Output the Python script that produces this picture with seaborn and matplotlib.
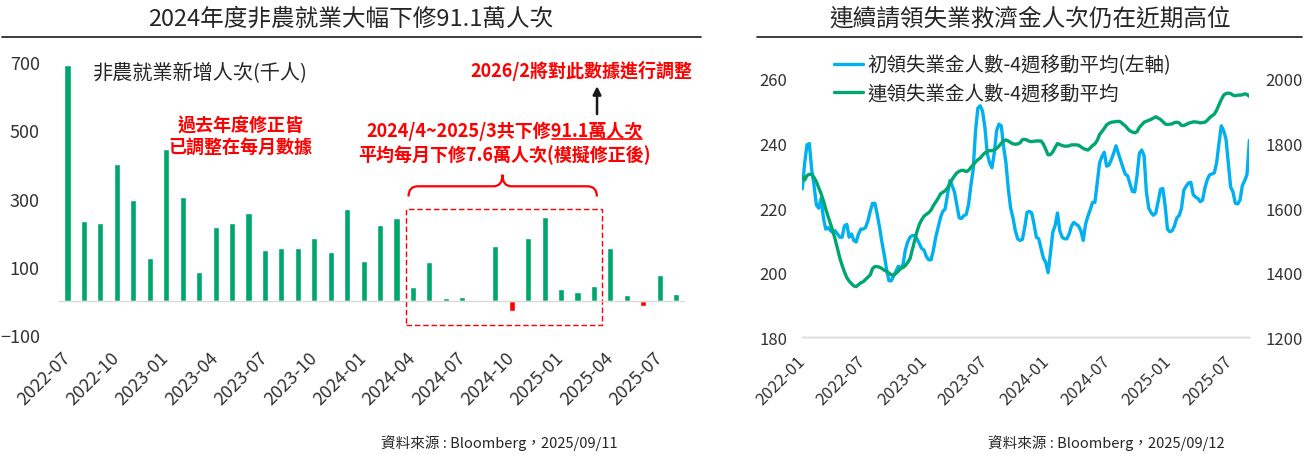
#nfp revision + jobless claims

import matplotlib.pyplot as plt
import numpy as np
import pandas as pd
import seaborn as sns
from matplotlib.lines import Line2D
from matplotlib.patches import Rectangle, PathPatch
from matplotlib.path import Path

# -----------------------------------------
# Data: nonfarm payrolls (thousands), monthly
# -----------------------------------------

months = pd.period_range("2022-07", "2025-08", freq="M").strftime("%Y-%m").tolist()

nfp = [692, 235, 227, 400, 297, 124,
       444, 306, 85, 215, 227, 257, 148, 156, 156, 185, 142, 268,
       118, 221, 244, 41, 115, 9, 12, -4, 162, -31, 185, 247,
       35, 26, 44, 156, 18, -14, 76, 21]

# -----------------------------------------
# Data: jobless claims, 4-week moving average (weekly)
# -----------------------------------------

weeks = pd.date_range("2022-01-01", periods=192, freq="7D")

initial_claims = [
    226, 234, 239.6, 240, 232, 227, 221, 220, 223, 217, 213.5, 214,
    213, 212.5, 213, 212, 211, 211, 214.5, 215, 211, 212, 210, 209.5,
    212, 213.5, 213.5, 214, 216, 219, 221.5, 221.5, 218, 214, 209.5, 205.5,
    201, 197.5, 197.5, 199, 200.5, 202, 201.5, 202.5, 207, 209.5, 211, 211.5,
    211.5, 210.5, 209, 207.5, 207, 205, 204, 204, 207, 211, 214, 217,
    219, 219.7, 224, 228.5, 227, 225, 221, 217, 216.8, 217.7, 218, 221,
    227, 232, 244, 251, 251.7, 250, 245, 237, 234, 232.5, 237, 244,
    246, 245.5, 239, 234, 226, 220, 217, 213, 210.5, 210, 210.3, 214,
    218.7, 219, 218.5, 215, 211, 210.5, 207.5, 204.5, 203.2, 200, 206, 212.5,
    214.6, 218.5, 213, 211, 210.5, 210.5, 212, 214.5, 215.6, 215, 214.5, 213,
    210, 215, 217.5, 219.5, 221.8, 221.8, 228, 234, 236, 237.3, 233, 233.3,
    235, 237, 239.3, 237, 234.8, 232.5, 230.5, 230, 227.5, 225.2, 225, 230,
    237, 238, 236.3, 225, 220, 218.6, 217.8, 218.5, 222, 225.8, 226.1, 220.8,
    213.5, 212.7, 213, 214.5, 217, 217.7, 220, 225.6, 226.8, 227.8, 228, 224.2,
    223.4, 223, 222, 222.5, 226.3, 228.8, 230.3, 230.6, 230.9, 234, 240, 245.5,
    244, 241.4, 234, 226.5, 225, 221.5, 221.3, 222.5, 227, 228.5, 230.5, 241,
]

continuing_claims = [
    1696, 1687, 1701, 1705, 1704, 1695, 1682, 1663, 1645, 1623, 1597, 1574,
    1552, 1530, 1504, 1475, 1446, 1423, 1402, 1385, 1374, 1366, 1359, 1357,
    1363, 1369, 1372, 1379, 1386, 1393, 1413, 1419, 1419, 1417, 1413, 1408,
    1404, 1399, 1394, 1392, 1398, 1405, 1413, 1416, 1422, 1432, 1443, 1472,
    1500, 1528, 1550, 1564, 1575, 1581, 1586, 1594, 1608, 1619, 1630, 1644,
    1649, 1654, 1662, 1674, 1689, 1700, 1709, 1714, 1717, 1717, 1713, 1717,
    1726, 1734, 1743, 1750, 1755, 1764, 1771, 1776, 1778, 1778, 1780, 1785,
    1792, 1801, 1809, 1811, 1808, 1803, 1799, 1798, 1799, 1802, 1812, 1813,
    1811, 1807, 1806, 1807, 1808, 1808, 1808, 1798, 1782, 1765, 1766, 1774,
    1788, 1800, 1797, 1794, 1792, 1792, 1793, 1796, 1796, 1796, 1795, 1790,
    1785, 1782, 1780, 1786, 1794, 1799, 1810, 1828, 1837, 1847, 1858, 1863,
    1866, 1867, 1868, 1869, 1867, 1860, 1855, 1846, 1839, 1836, 1833, 1837,
    1850, 1858, 1866, 1869, 1872, 1875, 1879, 1883, 1879, 1875, 1868, 1861,
    1859, 1860, 1861, 1865, 1866, 1864, 1856, 1856, 1859, 1863, 1865, 1867,
    1867, 1866, 1864, 1865, 1866, 1872, 1880, 1886, 1891, 1903, 1920, 1936,
    1950, 1955, 1956, 1955, 1950, 1948, 1950, 1950, 1951, 1954, 1952, 1946,
]

claims_ticks = pd.date_range("2022-01-01", "2025-07-01", freq="6MS")

GREEN = "#00A76C"
RED = "#FF0000"
BLUE = "#00B0F0"
GRID = "#D9D9D9"
TXT = "#262626"

# -----------------------------------------
# Theme
# -----------------------------------------

sns.set_theme(style="white")
plt.rcParams["font.family"] = ["Noto Sans CJK TC", "DejaVu Sans"]

fig = plt.figure(figsize=(13.11, 4.56), dpi=100)

ax1 = fig.add_axes([0.04523, 0.2636, 0.4768, 0.5976])
ax2 = fig.add_axes([0.6120, 0.2581, 0.3410, 0.5665])

# -----------------------------------------
# Left: payroll bars
# -----------------------------------------

df_nfp = pd.DataFrame({
    "month": months,
    "value": nfp,
    "sign": np.where(np.array(nfp) >= 0, "pos", "neg"),
})

sns.barplot(
    data=df_nfp, x="month", y="value", hue="sign",
    palette={"pos": GREEN, "neg": RED},
    dodge=False, width=0.37, saturation=1, legend=False, ax=ax1
)

ax1.set_xlim(-0.5, len(months) - 0.5)
ax1.set_ylim(-100, 700)
ax1.set_yticks([-100, 100, 300, 500, 700])
ax1.set_xlabel("")
ax1.set_ylabel("")

for s in ["top", "right", "left"]:
    ax1.spines[s].set_visible(False)
ax1.spines["bottom"].set_position(("data", 0))
ax1.spines["bottom"].set_color(GRID)
ax1.spines["bottom"].set_linewidth(1)

ax1.set_xticks(range(0, len(months), 3))
ax1.set_xticklabels(months[::3])
ax1.set_xticks(np.arange(-0.5, len(months) - 1, 3), minor=True)
ax1.tick_params(axis="x", which="major", length=0, pad=39, labelsize=13, labelcolor="#333333")
ax1.tick_params(axis="x", which="minor", length=3.6, width=1, color=GRID, direction="out")
ax1.tick_params(axis="y", length=0, pad=14, labelsize=13, labelcolor="#333333")
for lab in ax1.get_xticklabels():
    lab.set_rotation(45)
    lab.set_ha("right")
    lab.set_va("center")
    lab.set_rotation_mode("anchor")

# annotations
ax1.text(1.56, 671, "非農就業新增人次(千人)", fontsize=14.5, color=TXT, ha="left", va="center")

ax1.text(10.5, 483, "過去年度修正皆\n已調整在每月數據", fontsize=13, color=RED,
         fontweight="bold", ha="center", va="center", linespacing=1.2)

ax1.text(37.97, 677, "2026/2將對此數據進行調整", fontsize=13, color=RED,
         fontweight="bold", ha="right", va="center", clip_on=False)

ax1.annotate("", xy=(32.19, 630), xytext=(32.19, 548),
             arrowprops=dict(arrowstyle="-|>", color="#1A1A1A", lw=1.8,
                             mutation_scale=12, shrinkA=0, shrinkB=0))

ax1.text(26.55, 501, "2024/4~2025/3共下修91.1萬人次", fontsize=13, color=RED,
         fontweight="bold", ha="center", va="center")
ax1.plot([29.45, 34.95], [474, 474], color=RED, lw=1.2)
ax1.text(26.55, 431, "平均每月下修7.6萬人次(模擬修正後)", fontsize=13, color=RED,
         fontweight="bold", ha="center", va="center")

# curly brace over the revised window
brace = Path(
    [(20.73, 306), (20.73, 336), (21.3, 336),
     (25.9, 336),
     (26.44, 336), (26.44, 370),
     (26.44, 336), (26.98, 336),
     (31.6, 336),
     (32.18, 336), (32.18, 306)],
    [Path.MOVETO, Path.CURVE3, Path.CURVE3,
     Path.LINETO,
     Path.CURVE3, Path.CURVE3,
     Path.CURVE3, Path.CURVE3,
     Path.LINETO,
     Path.CURVE3, Path.CURVE3],
)
ax1.add_patch(PathPatch(brace, facecolor="none", edgecolor=RED, lw=1.6))

ax1.add_patch(Rectangle((20.55, -71), 11.95, 339, fill=False, edgecolor=RED,
                        lw=1, linestyle=(0, (4, 2))))

# -----------------------------------------
# Right: claims lines (twin axes)
# -----------------------------------------

df_claims = pd.DataFrame({
    "week": weeks,
    "initial": initial_claims,
    "continuing": continuing_claims,
})

sns.lineplot(data=df_claims, x="week", y="initial", color=BLUE, linewidth=2.4,
             label="初領失業金人數-4週移動平均(左軸)", legend=False, ax=ax2)

ax2b = ax2.twinx()
sns.lineplot(data=df_claims, x="week", y="continuing", color=GREEN, linewidth=2.4,
             label="連領失業金人數-4週移動平均", legend=False, ax=ax2b)

ax2.set_xlim(weeks[0], weeks[-1])
ax2.set_ylim(180, 260)
ax2.set_yticks(range(180, 261, 20))
ax2b.set_ylim(1200, 2000)
ax2b.set_yticks(range(1200, 2001, 200))
for a in (ax2, ax2b):
    a.set_xlabel("")
    a.set_ylabel("")
    for s in ["top", "right", "left"]:
        a.spines[s].set_visible(False)
    a.spines["bottom"].set_color(GRID)
    a.spines["bottom"].set_linewidth(1)

ax2.set_xticks(claims_ticks)
ax2.set_xticklabels(claims_ticks.strftime("%Y-%m"))
ax2.tick_params(axis="x", length=4.3, width=1, color=GRID, pad=11, labelsize=12, labelcolor="#333333")
ax2.tick_params(axis="y", length=0, pad=11, labelsize=12, labelcolor="#333333")
ax2b.tick_params(axis="y", length=0, pad=11.5, labelsize=12, labelcolor="#333333")
for lab in ax2.get_xticklabels():
    lab.set_rotation(45)
    lab.set_ha("right")
    lab.set_va("center")
    lab.set_rotation_mode("anchor")

handles = [ax2.get_lines()[0], ax2b.get_lines()[0]]
ax2b.legend(
    handles, [h.get_label() for h in handles],
    loc="upper left", bbox_to_anchor=(0.071, 1.095),
    frameon=False, borderpad=0, borderaxespad=0,
    handlelength=1.5, handletextpad=0.2, labelspacing=0.4,
    fontsize=14, labelcolor=TXT,
)

# -----------------------------------------
# Titles, rules, sources
# -----------------------------------------

fig.text(0.2677, 0.958, "2024年度非農就業大幅下修91.1萬人次", fontsize=17,
         color=TXT, ha="center", va="center")
fig.text(0.7857, 0.958, "連續請領失業救濟金人次仍在近期高位", fontsize=17,
         color=TXT, ha="center", va="center")

fig.add_artist(Line2D([0.0015, 0.5347], [0.916, 0.916], color="#1A1A1A", lw=1.2))
fig.add_artist(Line2D([0.5774, 0.9931], [0.916, 0.916], color="#1A1A1A", lw=1.2))

fig.text(0.2906, 0.0285, "資料來源 : Bloomberg，2025/09/11", fontsize=10.5,
         color=TXT, ha="left", va="center")
fig.text(0.7536, 0.0285, "資料來源 : Bloomberg，2025/09/12", fontsize=10.5,
         color=TXT, ha="left", va="center")

fig.savefig("out.png", dpi=100)
